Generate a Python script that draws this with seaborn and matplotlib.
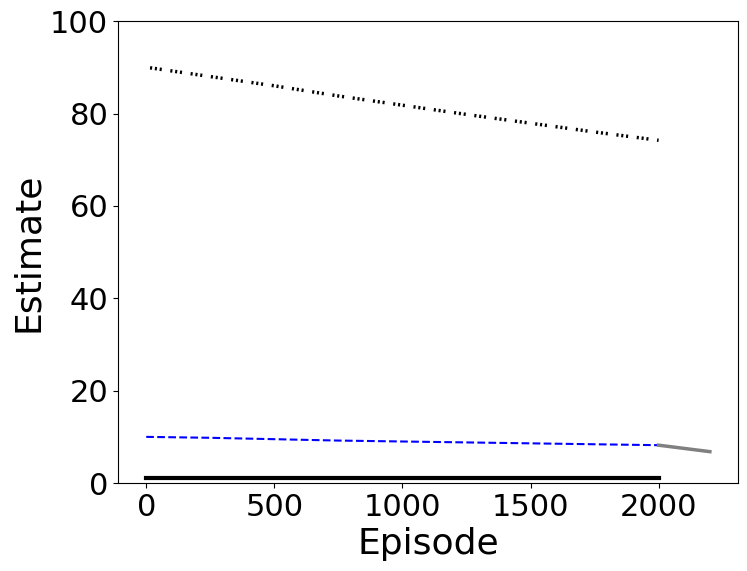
import matplotlib
matplotlib.use("Agg")
import matplotlib.pyplot as plt
import seaborn as sns
import pandas as pd

episodes = [15, 250, 500, 750, 1000, 1250, 1500, 1750, 2000]
upper_estimate = [89.9, 88.0, 86.0, 83.8, 81.8, 79.8, 77.9, 76.0, 74.2]
mid_episodes = [0, 250, 500, 750, 1000, 1250, 1500, 1750, 2000]
mid_estimate = [10.0, 9.8, 9.5, 9.2, 9.0, 8.8, 8.6, 8.4, 8.2]
low_estimate = [1.0, 1.0, 1.0, 1.0, 1.0, 1.0, 1.0, 1.0, 1.0]
tail_episodes = [2000, 2100, 2200]
tail_estimate = [8.2, 7.5, 6.8]

up = pd.DataFrame({"Episode": episodes, "upper": upper_estimate})
df = pd.DataFrame({"Episode": mid_episodes, "mid": mid_estimate, "low": low_estimate})
tail = pd.DataFrame({"Episode": tail_episodes, "tail": tail_estimate})

fig, ax = plt.subplots(figsize=(7.47, 5.71), dpi=100)
sns.lineplot(data=up, x="Episode", y="upper", ax=ax, color="black",
             linewidth=2.5, linestyle=(0, (0.6, 0.8, 0.6, 0.8, 0.6, 2.5)))
sns.lineplot(data=df, x="Episode", y="mid", ax=ax, color="blue",
             linewidth=1.5, linestyle="--")
sns.lineplot(data=df, x="Episode", y="low", ax=ax, color="black",
             linewidth=3)
sns.lineplot(data=tail, x="Episode", y="tail", ax=ax, color="gray",
             linewidth=2.5)

ax.set_xlim(-110, 2310)
ax.set_ylim(0, 100)
ax.set_xlabel("Episode", fontsize=26)
ax.set_ylabel("Estimate", fontsize=26)
ax.tick_params(labelsize=22)
fig.subplots_adjust(left=0.158, right=0.988, top=0.963, bottom=0.154)
fig.savefig("out.png", dpi=100)
